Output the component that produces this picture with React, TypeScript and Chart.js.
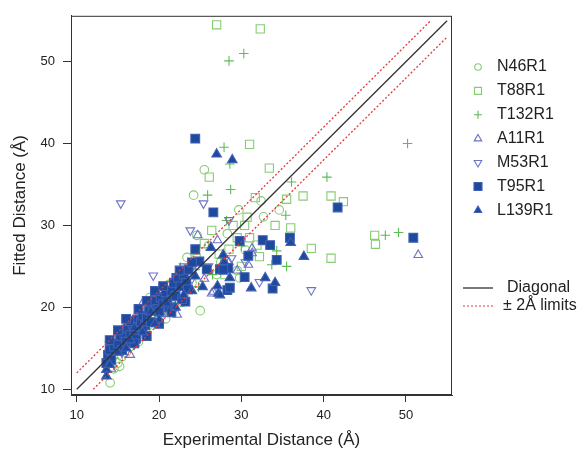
import React, { useEffect, useRef } from 'react';
import { Chart, registerables } from 'chart.js';
Chart.register(...registerables);

type P = [number, number];

const N46R1: P[] = [
  [25.5, 36.8], [24.2, 33.7], [32.4, 33.0], [34.6, 31.9], [29.7, 31.9], [32.7, 31.05], [25.0, 19.6],
  [14.05, 10.8], [23.4, 26.1], [29.8, 23.6], [24.6, 28.8], [26.0, 27.5], [28.3, 29.0], [30.5, 27.0],
  [27.5, 25.5], [14.5, 12.5], [15.0, 13.2], [15.5, 14.0], [16.0, 14.5], [16.5, 15.2], [17.0, 16.0],
  [17.5, 15.8], [18.0, 16.8], [18.5, 17.5], [19.0, 18.0], [19.5, 18.8], [20.0, 19.0], [20.5, 20.2],
  [21.0, 19.8], [21.5, 21.0], [22.0, 21.5], [22.5, 22.0], [23.0, 22.5], [23.5, 24.0], [24.0, 23.0],
  [19.8, 21.0], [21.2, 22.8], [18.3, 19.4], [16.8, 17.5], [15.2, 12.8], [20.3, 22.0], [27.0, 24.0],
  [29.5, 24.5], [20.8, 18.6], [22.8, 20.6], [18.9, 21.2],
];
const T88R1: P[] = [
  [27.0, 54.5], [32.3, 54.0], [31.0, 39.9], [33.4, 37.0], [26.1, 35.9], [31.7, 33.4], [35.5, 33.2],
  [37.5, 33.6], [40.9, 33.6], [42.4, 32.9], [30.7, 31.0], [34.1, 30.0], [36.0, 29.7], [38.5, 27.2],
  [40.9, 26.0], [46.2, 28.8], [46.3, 27.7], [32.2, 26.2], [26.4, 29.4], [28.5, 27.1], [29.5, 28.5],
  [27.3, 26.5], [30.0, 25.0], [28.0, 24.0], [24.5, 26.0], [22.0, 22.5], [20.5, 21.0], [19.0, 19.5],
  [25.5, 27.8], [31.0, 28.5], [29.0, 30.0], [30.4, 30.0], [31.9, 27.6],
];
const T132R1: P[] = [
  [28.5, 50.1], [30.3, 51.0], [27.9, 39.55], [28.6, 37.5], [28.7, 34.4], [25.9, 33.7], [36.1, 35.3],
  [40.4, 35.9], [50.2, 40.0], [47.5, 28.8], [49.1, 29.15], [35.4, 31.25], [34.3, 26.9], [33.7, 25.2],
  [35.5, 25.0], [28.2, 30.6], [22.6, 24.9], [24.4, 24.6], [30.0, 27.5], [26.5, 24.0], [27.5, 26.0],
  [20.0, 20.3], [21.5, 20.5], [18.5, 18.0], [17.0, 16.5], [15.5, 14.3], [23.0, 23.5], [19.5, 19.0],
  [16.0, 15.5], [14.5, 13.8], [22.0, 20.8], [24.8, 22.5],
];
const A11R1: P[] = [
  [51.5, 26.4], [24.7, 28.8], [27.1, 28.2], [30.85, 25.2], [31.3, 27.2], [26.4, 21.7], [22.2, 19.1],
  [26.6, 21.9], [31.3, 26.6], [13.8, 14.8], [14.5, 15.0], [15.0, 16.0], [15.8, 17.0], [16.3, 15.5],
  [17.0, 18.2], [17.5, 16.8], [18.2, 17.0], [18.8, 20.0], [19.5, 21.0], [20.3, 19.2], [21.0, 21.5],
  [21.8, 20.0], [22.5, 24.0], [23.5, 22.0], [24.0, 25.0], [25.5, 23.5], [20.0, 22.0], [18.0, 20.5],
  [26.0, 24.5], [28.5, 25.5], [29.5, 24.5], [14.2, 12.5], [16.5, 14.2],
];
const M53R1: P[] = [
  [15.35, 32.7], [25.4, 32.7], [23.8, 29.4], [28.5, 30.65], [19.3, 23.9], [32.2, 23.1], [38.5, 22.1],
  [28.8, 26.0], [30.5, 25.5], [23.0, 25.0], [14.0, 15.5], [15.0, 16.5], [16.0, 17.5], [16.5, 16.0],
  [17.5, 18.8], [18.0, 19.5], [19.0, 20.8], [20.0, 21.5], [21.0, 22.3], [22.0, 23.0], [20.5, 19.5],
  [17.0, 15.5], [15.5, 14.5], [24.0, 23.5], [26.0, 25.0],
];
const T95R1: P[] = [
  [24.4, 40.6], [26.6, 31.6], [41.7, 32.2], [50.9, 28.5], [24.4, 27.1], [29.8, 28.1], [32.6, 28.2],
  [33.5, 27.6], [35.9, 28.5], [30.85, 26.3], [34.3, 25.8], [24.9, 25.6], [25.8, 24.65], [27.4, 24.65],
  [28.4, 24.8], [30.4, 23.7], [28.3, 22.1], [33.8, 22.3], [22.1, 23.6], [23.2, 20.7], [27.8, 24.6],
  [28.6, 22.4], [22.55, 23.8], [21.9, 22.8],
  [13.6, 13.2], [13.8, 14.2], [14.0, 14.8], [14.5, 15.2], [15.0, 15.6], [15.3, 16.5], [15.8, 16.8],
  [16.2, 17.4], [16.5, 16.6], [16.8, 17.9], [17.0, 17.0], [17.3, 18.5], [17.5, 17.6], [17.8, 18.2],
  [18.0, 19.0], [18.3, 17.8], [18.5, 18.7], [18.8, 19.6], [19.2, 20.3], [19.5, 20.8], [19.8, 19.8],
  [20.2, 21.2], [20.5, 20.4], [20.8, 21.8], [21.0, 20.8], [21.5, 22.0], [21.8, 23.0], [22.0, 21.4],
  [22.3, 23.6], [22.6, 22.6], [23.0, 24.0], [23.3, 23.0], [23.6, 24.6], [15.5, 14.8], [16.0, 15.8],
  [17.2, 16.2], [18.0, 17.2], [19.0, 18.2], [20.0, 19.5], [21.2, 20.0], [14.2, 13.6], [16.4, 18.3],
  [15.0, 17.2], [16.0, 18.6], [17.5, 19.8], [18.5, 20.8], [19.5, 22.0], [20.5, 22.6], [17.0, 15.6],
  [18.5, 16.5], [20.0, 18.0], [21.5, 19.4], [22.8, 21.0], [14.0, 16.0], [23.5, 22.2], [22.5, 24.5],
  [24.0, 25.5],
];
const L139R1: P[] = [
  [27.0, 38.7], [28.9, 38.0], [37.6, 26.2], [36.0, 27.9], [26.3, 27.3], [32.9, 23.6], [31.2, 22.35],
  [34.1, 23.0], [27.2, 21.7], [27.1, 22.6], [25.3, 22.5], [13.6, 12.4], [13.6, 11.6], [27.9, 25.6],
  [28.6, 23.6], [27.4, 21.5], [24.4, 23.8], [27.8, 26.4], [14.0, 13.0], [15.0, 14.5], [16.0, 15.0],
  [17.0, 17.5], [18.0, 17.0], [19.0, 19.5], [20.0, 18.5], [21.0, 20.5], [22.0, 20.0], [23.0, 21.5],
  [24.0, 22.0], [16.5, 16.0], [19.5, 18.0],
];

const diagonal: P[] = [[10, 10], [55, 55]];
const upperLimit: P[] = [[10, 12], [53, 55]];
const lowerLimit: P[] = [[12, 10], [55, 53]];

const tickValues = [10, 20, 30, 40, 50];
const axisMin = 9.3;
const axisMax = 55.6;

const seriesNames = ['N46R1', 'T88R1', 'T132R1', 'A11R1', 'M53R1', 'T95R1', 'L139R1'];
const seriesData = [N46R1, T88R1, T132R1, A11R1, M53R1, T95R1, L139R1];
const lineNames = ['Diagonal', '\u00B1 2\u00C5 limits'];

const GREEN = '#86cc72';
const GREEN_PLUS = '#5dbb57';
const LIGHT_BLUE = '#6d73c6';
const DARK_BLUE = '#1e4a9e';
const DARK_EDGE = '#3f5fb4';
const RED = '#e03a3a';
const FONT = "'Liberation Sans', Arial, Helvetica, sans-serif";

const styles = [
  { ps: 'circle', rot: 0, color: GREEN, fill: 'rgba(0,0,0,0)', r: 4.3 },
  { ps: 'rect', rot: 0, color: GREEN, fill: 'rgba(0,0,0,0)', r: 5.8 },
  { ps: 'cross', rot: 0, color: GREEN_PLUS, fill: 'rgba(0,0,0,0)', r: 4.8 },
  { ps: 'triangle', rot: 0, color: LIGHT_BLUE, fill: 'rgba(0,0,0,0)', r: 5 },
  { ps: 'triangle', rot: 180, color: LIGHT_BLUE, fill: 'rgba(0,0,0,0)', r: 5 },
  { ps: 'rect', rot: 0, color: DARK_EDGE, fill: DARK_BLUE, r: 6.2 },
  { ps: 'triangle', rot: 0, color: DARK_EDGE, fill: DARK_BLUE, r: 5.5 },
];

function drawSymbol(ctx: CanvasRenderingContext2D, i: number, x: number, y: number) {
  const s = styles[i];
  ctx.save();
  ctx.strokeStyle = s.color;
  ctx.fillStyle = s.fill;
  ctx.lineWidth = 1.1;
  ctx.beginPath();
  if (s.ps === 'circle') {
    ctx.arc(x, y, 3.3, 0, Math.PI * 2);
    ctx.stroke();
  } else if (s.ps === 'rect') {
    const h = i === 5 ? 4 : 3.5;
    ctx.rect(x - h, y - h, 2 * h, 2 * h);
    if (i === 5) ctx.fill();
    ctx.stroke();
  } else if (s.ps === 'cross') {
    ctx.moveTo(x - 4, y); ctx.lineTo(x + 4, y);
    ctx.moveTo(x, y - 4); ctx.lineTo(x, y + 4);
    ctx.stroke();
  } else {
    const r = 4.3;
    const dir = s.rot === 180 ? -1 : 1;
    ctx.moveTo(x, y - dir * r);
    ctx.lineTo(x + r * 0.866, y + dir * r * 0.5);
    ctx.lineTo(x - r * 0.866, y + dir * r * 0.5);
    ctx.closePath();
    if (i === 6) ctx.fill();
    ctx.stroke();
  }
  ctx.restore();
}

const framePlugin = {
  id: 'frameAndLegend',
  afterDraw(chart: any) {
    const { ctx, chartArea } = chart;
    ctx.save();
    ctx.strokeStyle = '#333';
    ctx.lineWidth = 1;
    ctx.strokeRect(chartArea.left + 0.5, chartArea.top + 0.5, chartArea.right - chartArea.left - 1, chartArea.bottom - chartArea.top - 1);
    ctx.font = `16px ${FONT}`;
    ctx.fillStyle = '#222';
    ctx.textBaseline = 'middle';
    ctx.textAlign = 'left';
    seriesNames.forEach((name, i) => {
      const y = 67 + i * 23.9;
      drawSymbol(ctx, i, 478, y);
      ctx.fillStyle = '#222';
      ctx.fillText(name, 497, y);
    });
    ctx.strokeStyle = '#222';
    ctx.lineWidth = 1.2;
    ctx.beginPath();
    ctx.moveTo(463, 288); ctx.lineTo(493, 288); ctx.stroke();
    ctx.fillText(lineNames[0], 507, 288);
    ctx.strokeStyle = RED;
    ctx.setLineDash([2, 2]);
    ctx.beginPath();
    ctx.moveTo(463, 306); ctx.lineTo(493, 306); ctx.stroke();
    ctx.setLineDash([]);
    ctx.fillText(lineNames[1], 503, 306);
    ctx.restore();
  },
};

const toXY = (arr: P[]) => arr.map(([x, y]) => ({ x, y }));

export default function App() {
  const ref = useRef<HTMLCanvasElement | null>(null);
  useEffect(() => {
    document.body.style.margin = '0';
    if (!ref.current) return;
    const lineDs = [
      { label: 'Diagonal', data: toXY(diagonal), color: '#333', dash: [] as number[] },
      { label: 'upper', data: toXY(upperLimit), color: RED, dash: [2, 2] },
      { label: 'lower', data: toXY(lowerLimit), color: RED, dash: [2, 2] },
    ].map((l) => ({
      type: 'line' as const,
      label: l.label,
      data: l.data,
      borderColor: l.color,
      borderWidth: 1.3,
      borderDash: l.dash,
      pointRadius: 0,
      fill: false,
      order: 0,
    }));
    const scatterDs = seriesData.map((d, i) => ({
      type: 'scatter' as const,
      label: seriesNames[i],
      data: toXY(d),
      pointStyle: styles[i].ps as any,
      rotation: styles[i].rot,
      pointRotation: styles[i].rot,
      borderColor: styles[i].color,
      backgroundColor: styles[i].fill,
      pointBorderWidth: 1.1,
      borderWidth: 1.1,
      pointRadius: styles[i].r,
      order: 7 - i,
    }));
    const setTicks = (scale: any) => {
      scale.ticks = tickValues.map((v) => ({ value: v }));
    };
    const chart = new Chart(ref.current, {
      type: 'scatter',
      data: { datasets: [...lineDs, ...scatterDs] as any },
      options: {
        animation: false,
        responsive: false,
        devicePixelRatio: 1,
        layout: { padding: { left: 0, top: 14, right: 132, bottom: 0 } },
        plugins: { legend: { display: false }, tooltip: { enabled: false } },
        scales: {
          x: {
            type: 'linear',
            min: axisMin,
            max: axisMax,
            afterBuildTicks: setTicks,
            afterFit: (s: any) => { s.height = 58; },
            grid: { drawOnChartArea: false, drawTicks: true, tickLength: 7, color: '#333', tickColor: '#333' },
            border: { color: '#333' },
            ticks: { color: '#222', font: { size: 13, family: FONT }, padding: 6, maxRotation: 0 },
            title: { display: true, text: 'Experimental Distance (\u00C5)', color: '#222', font: { size: 17, family: FONT }, padding: { top: 0, bottom: 2 } },
          },
          y: {
            type: 'linear',
            min: axisMin,
            max: axisMax,
            afterBuildTicks: setTicks,
            afterFit: (s: any) => { s.width = 71; },
            grid: { drawOnChartArea: false, drawTicks: true, tickLength: 8, color: '#333', tickColor: '#333' },
            border: { color: '#333' },
            ticks: { color: '#222', font: { size: 13, family: FONT }, padding: 8 },
            title: { display: true, text: 'Fitted Distance (\u00C5)', color: '#222', font: { size: 17, family: FONT }, padding: { top: 10, bottom: 0 } },
          },
        },
      },
      plugins: [framePlugin],
    });
    return () => chart.destroy();
  }, []);
  return (
    <div style={{ width: 584, height: 453 }}>
      <canvas ref={ref} width={584} height={453} style={{ display: 'block', width: 584, height: 453 }} />
    </div>
  );
}
